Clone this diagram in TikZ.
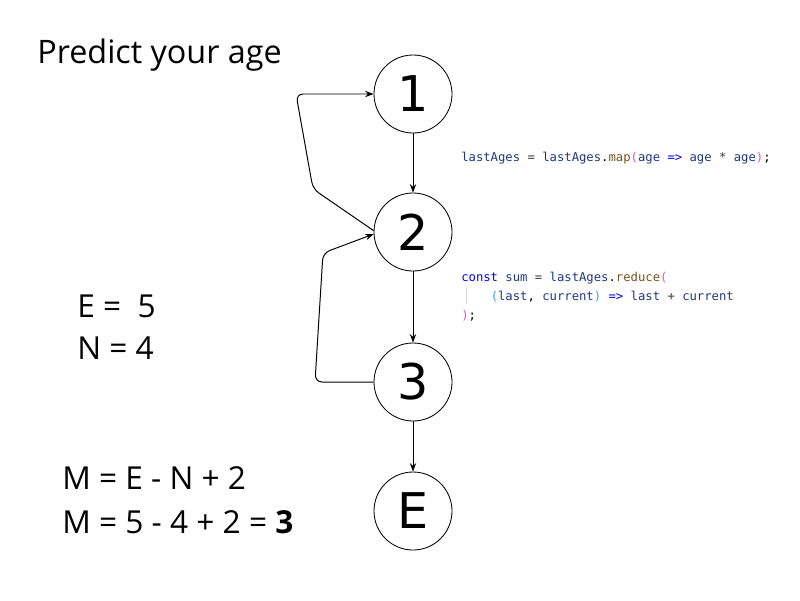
\documentclass[tikz,border=0pt]{standalone}
\usepackage{fontspec}
\setmainfont{Open Sans}
\setmonofont{DejaVu Sans Mono}
\newfontfamily\digitfont{DejaVu Sans}
\usetikzlibrary{arrows.meta}

\definecolor{idnavy}{HTML}{1F377F}
\definecolor{methodbrown}{HTML}{74531F}
\definecolor{kwblue}{HTML}{0000FF}
\definecolor{bracepink}{HTML}{D15EC6}
\definecolor{braceblue}{HTML}{3FA0DC}
\definecolor{opgray}{HTML}{3C3C3C}
\definecolor{guidegray}{HTML}{D4D4D4}

\begin{document}
\begin{tikzpicture}[x=0.025cm, y=-0.025cm,
  state/.style={circle, draw, line width=0.6pt, minimum size=1.95cm, inner sep=0pt,
    font=\digitfont\fontsize{35}{40}\selectfont},
  flow/.style={line width=0.7pt, -{Stealth[length=6pt,width=4.5pt]}},
  sidetext/.style={anchor=base west, inner sep=0pt, font=\fontsize{22.5}{27}\selectfont},
  code/.style={anchor=base west, inner sep=0pt, font=\ttfamily\fontsize{8.7}{10}\selectfont}]

  \useasboundingbox (0, 0) rectangle (800, 600);

  % states
  \node[state] (n1) at (413, 94) {1};
  \node[state] (n2) at (413, 232) {2};
  \node[state] (n3) at (413, 382) {3};
  \node[state] (nE) at (413, 511) {E};

  % edges
  \draw[flow] (n1) -- (n2);
  \draw[flow] (n2) -- (n3);
  \draw[flow] (n3) -- (nE);
  \draw[flow, rounded corners=5pt] (n2.178) -- (313, 189) -- (296, 94) -- (n1.west);
  \draw[flow, rounded corners=5pt] (n3.west) -- (315, 382) -- (323, 253) -- (n2.183);

  % texts on the left
  \node[sidetext, font=\fontsize{23}{27}\selectfont] (title) at (37, 63) {Predict your age};
  \node[sidetext] (edges) at (77, 317) {E =\ \ 5};
  \node[sidetext] (nodes) at (77, 359) {N = 4};
  \node[sidetext] (formula) at (62, 489) {M = E - N + 2};
  \node[sidetext] (result) at (62, 533) {M = 5 - 4 + 2 = \textbf{3}};

  % code
  \node[code] (mapline) at (461, 161) {\textcolor{idnavy}{lastAges} \textcolor{opgray}{=} \textcolor{idnavy}{lastAges}.\textcolor{methodbrown}{map}\textcolor{bracepink}{(}\textcolor{idnavy}{age} \textcolor{kwblue}{=>} \textcolor{idnavy}{age} \textcolor{opgray}{*} \textcolor{idnavy}{age}\textcolor{bracepink}{)};};
  \node[code] (sumline) at (461, 281) {\textcolor{kwblue}{const} \textcolor{idnavy}{sum} \textcolor{opgray}{=} \textcolor{idnavy}{lastAges}.\textcolor{methodbrown}{reduce}\textcolor{bracepink}{(}};
  \node[code] (argline) at (461, 300) {\phantom{xxxx}\textcolor{braceblue}{(}\textcolor{idnavy}{last}, \textcolor{idnavy}{current}\textcolor{braceblue}{)} \textcolor{kwblue}{=>} \textcolor{idnavy}{last} \textcolor{opgray}{+} \textcolor{idnavy}{current}};
  \node[code] (endline) at (461, 319) {\textcolor{bracepink}{)};};
  \draw[guidegray, line width=0.6pt] (466, 287) -- (466, 304);

\end{tikzpicture}
\end{document}
